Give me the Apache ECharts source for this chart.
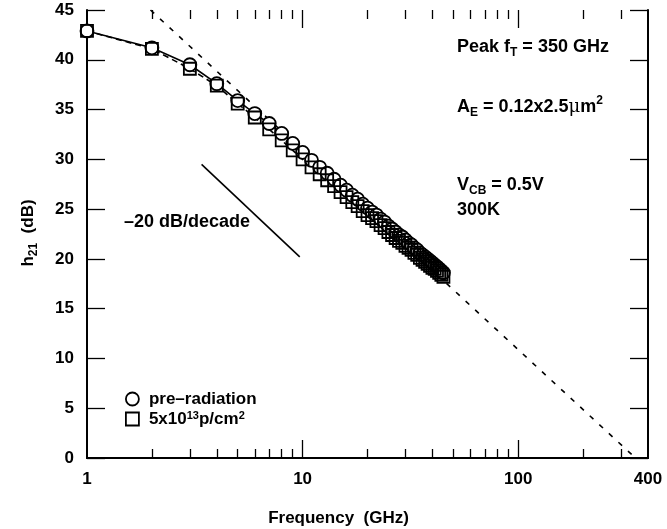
<!DOCTYPE html>
<html>
<head>
<meta charset="utf-8">
<script src="https://cdn.jsdelivr.net/npm/echarts@6/dist/echarts.min.js"></script>
<style>html,body{margin:0;padding:0;background:#fff}#c{width:667px;height:529px}</style>
</head>
<body>
<div id="c"></div>
<script>
// ---- data ----
const freqGHz = [1,2,3,4,5,6,7,8,9,10,11,12,13,14,15,16,17,18,19,20,21,22,23,24,25,26,27,28,29,30,31,32,33,34,35,36,37,38,39,40,41,42,43,44,45];
const preRadiation = [42.9,41.2,39.5,37.6,35.9,34.6,33.6,32.6,31.6,30.7,29.9,29.2,28.6,28.0,27.4,26.9,26.4,26.0,25.5,25.1,24.7,24.4,24.0,23.7,23.3,23.0,22.7,22.4,22.2,21.9,21.6,21.4,21.1,20.9,20.6,20.4,20.2,20.0,19.8,19.6,19.4,19.2,19.0,18.8,18.6];
const irradiated = [42.9,41.1,39.1,37.4,35.6,34.2,33.0,31.9,30.9,30.0,29.2,28.5,27.9,27.3,26.7,26.2,25.7,25.3,24.8,24.4,24.1,23.8,23.4,23.1,22.7,22.4,22.1,21.8,21.6,21.3,21.1,20.9,20.6,20.4,20.1,19.9,19.7,19.5,19.3,19.1,19.0,18.8,18.6,18.4,18.2];
// -20 dB/decade extrapolation to peak fT = 350 GHz
const extrapF = [1.97, 350];
const extrapDb = [45, 0];
// reference slope segment
const slopeF = [3.4, 9.7];
const slopeDb = [29.5, 20.2];
// ticks
const xLabelVals = [1, 10, 100, 400];
const xMajorTicks = [10, 100];
const xMinorTicks = [2,3,4,5,6,7,8,9,20,30,40,50,60,70,80,90,200,300];

const FONT = '"Liberation Sans", Arial, Helvetica, sans-serif';
const pairs = (xs, ys) => xs.map((x, i) => [x, ys[i]]);

const chart = echarts.init(document.getElementById('c'), null, {renderer: 'canvas'});

const AX = {color: '#000', width: 2};
const TK = {color: '#000', width: 1.3};
function xAx(extra) {
  return Object.assign({
    type: 'log', logBase: 10, min: 1, max: 400,
    splitLine: {show: false}, minorTick: {show: false}, minorSplitLine: {show: false},
    axisLine: {show: false}, axisTick: {show: false}, axisLabel: {show: false}
  }, extra);
}
function yAx(extra) {
  return Object.assign({
    type: 'value', min: 0, max: 45, interval: 5,
    splitLine: {show: false},
    axisLine: {show: false}, axisTick: {show: false}, axisLabel: {show: false}
  }, extra);
}

const option = {
  animation: false,
  backgroundColor: '#fff',
  grid: {left: 87, right: 19, top: 10, bottom: 71, containLabel: false, outerBoundsMode: 'none'},
  xAxis: [
    xAx({position: 'bottom',
      name: 'Frequency  (GHz)', nameLocation: 'middle', nameGap: 52,
      nameTextStyle: {fontFamily: FONT, fontWeight: 'bold', fontSize: 17, color: '#000', padding: [0, 58, 0, 0]},
      axisLine: {show: true, lineStyle: AX},
      axisLabel: {show: true, customValues: xLabelVals, margin: 13, fontFamily: FONT, fontWeight: 'bold', fontSize: 17, color: '#000'}}),
    xAx({position: 'top', axisLine: {show: true, lineStyle: AX}}),
    // tick helper axes (ticks point into the frame)
    xAx({position: 'bottom', offset: -18, axisTick: {show: true, length: 18, customValues: xMajorTicks, lineStyle: TK}}),
    xAx({position: 'bottom', offset: -9, axisTick: {show: true, length: 9, customValues: xMinorTicks, lineStyle: TK}}),
    xAx({position: 'top', offset: -18, axisTick: {show: true, length: 18, customValues: xMajorTicks, lineStyle: TK}}),
    xAx({position: 'top', offset: -9, axisTick: {show: true, length: 9, customValues: xMinorTicks, lineStyle: TK}})
  ],
  yAxis: [
    yAx({position: 'left', axisLine: {show: true, lineStyle: AX},
      axisLabel: {show: true, margin: 13, fontFamily: FONT, fontWeight: 'bold', fontSize: 17, color: '#000'}}),
    yAx({position: 'right', axisLine: {show: true, lineStyle: AX}}),
    yAx({position: 'left', offset: -18, axisTick: {show: true, length: 18, lineStyle: TK}}),
    yAx({position: 'right', offset: -18, axisTick: {show: true, length: 18, lineStyle: TK}})
  ],
  legend: {
    orient: 'vertical', left: 120, top: 385, itemWidth: 13, itemHeight: 13, itemGap: 2,
    selectedMode: false,
    textStyle: {fontFamily: FONT, fontWeight: 'bold', fontSize: 17, color: '#000', lineHeight: 18, padding: [0, 0, 0, 5],
      rich: {
        t: {fontFamily: FONT, fontWeight: 'bold', fontSize: 17, color: '#000', lineHeight: 18, verticalAlign: 'middle'},
        sup: {fontFamily: FONT, fontWeight: 'bold', fontSize: 11, color: '#000', verticalAlign: 'top', lineHeight: 11}
      }},
    formatter: function (name) {
      if (name === 'irr') return '{t|5x10}{sup|13}{t|p/cm}{sup|2}';
      return '{t|' + name + '}';
    },
    data: [
      {name: 'pre\u2013radiation', icon: 'circle', itemStyle: {color: 'transparent', borderColor: '#000', borderWidth: 1.8}},
      {name: 'irr', icon: 'rect', itemStyle: {color: 'transparent', borderColor: '#000', borderWidth: 1.8}}
    ]
  },
  graphic: [
    {type: 'text', x: 28, y: 233, rotation: Math.PI / 2, style: {text: '{a|h}{s|21}{a|  (dB)}', align: 'center', verticalAlign: 'middle', rich: {
      a: {font: 'bold 17px ' + FONT, fill: '#000', lineHeight: 24, verticalAlign: 'middle'},
      s: {font: 'bold 12px ' + FONT, fill: '#000', verticalAlign: 'bottom', lineHeight: 13}}}},
    {type: 'text', left: 457, top: 38, style: {text: '{a|Peak f}{s|T}{a| = 350 GHz}', rich: {
      a: {font: 'bold 18px ' + FONT, fill: '#000', lineHeight: 24, verticalAlign: 'middle'},
      s: {font: 'bold 12px ' + FONT, fill: '#000', verticalAlign: 'bottom', lineHeight: 13}}}},
    {type: 'text', left: 457, top: 95, style: {text: '{a|A}{s|E}{a| = 0.12x2.5}{m|\u03bc}{a|m}{p|2}', rich: {
      a: {font: 'bold 18px ' + FONT, fill: '#000', lineHeight: 24, verticalAlign: 'middle'},
      m: {font: '18px "DejaVu Serif", serif', fill: '#000', lineHeight: 24, verticalAlign: 'middle'},
      s: {font: 'bold 12px ' + FONT, fill: '#000', verticalAlign: 'bottom', lineHeight: 13},
      p: {font: 'bold 12px ' + FONT, fill: '#000', verticalAlign: 'top', lineHeight: 12}}}},
    {type: 'text', left: 457, top: 176, style: {text: '{a|V}{s|CB}{a| = 0.5V}', rich: {
      a: {font: 'bold 18px ' + FONT, fill: '#000', lineHeight: 24, verticalAlign: 'middle'},
      s: {font: 'bold 12px ' + FONT, fill: '#000', verticalAlign: 'bottom', lineHeight: 13}}}},
    {type: 'text', left: 457, top: 201, style: {text: '300K', font: 'bold 18px ' + FONT, fill: '#000'}},
    {type: 'text', left: 124, top: 213, style: {text: '\u201320 dB/decade', font: 'bold 18px ' + FONT, fill: '#000'}}
  ],
  series: [
    {
      type: 'line', name: 'extrap', data: pairs(extrapF, extrapDb), showSymbol: false, silent: true, z: 1,
      lineStyle: {color: '#000', width: 1.6, type: [5, 8]}
    },
    {
      type: 'line', name: 'slope', data: pairs(slopeF, slopeDb), showSymbol: false, silent: true, z: 1,
      lineStyle: {color: '#000', width: 1.6}
    },
    {
      type: 'line', name: 'preLine', data: pairs(freqGHz, preRadiation), showSymbol: false, silent: true, z: 1,
      lineStyle: {color: '#000', width: 1.6}
    },
    {
      type: 'line', name: 'irrLine', data: pairs(freqGHz, irradiated), showSymbol: false, silent: true, z: 1,
      lineStyle: {color: '#000', width: 1.6, type: [6, 4]}
    },
    {
      type: 'scatter', name: 'pre\u2013radiation', data: pairs(freqGHz, preRadiation), symbol: 'circle', symbolSize: 13, z: 3,
      itemStyle: {color: '#fff', borderColor: '#000', borderWidth: 1.8, opacity: 1}
    },
    {
      type: 'scatter', name: 'irr', data: pairs(freqGHz, irradiated), symbol: 'rect', symbolSize: 12, z: 4,
      itemStyle: {color: 'transparent', borderColor: '#000', borderWidth: 1.8, opacity: 1}
    }
  ]
};
chart.setOption(option);
</script>
</body>
</html>
